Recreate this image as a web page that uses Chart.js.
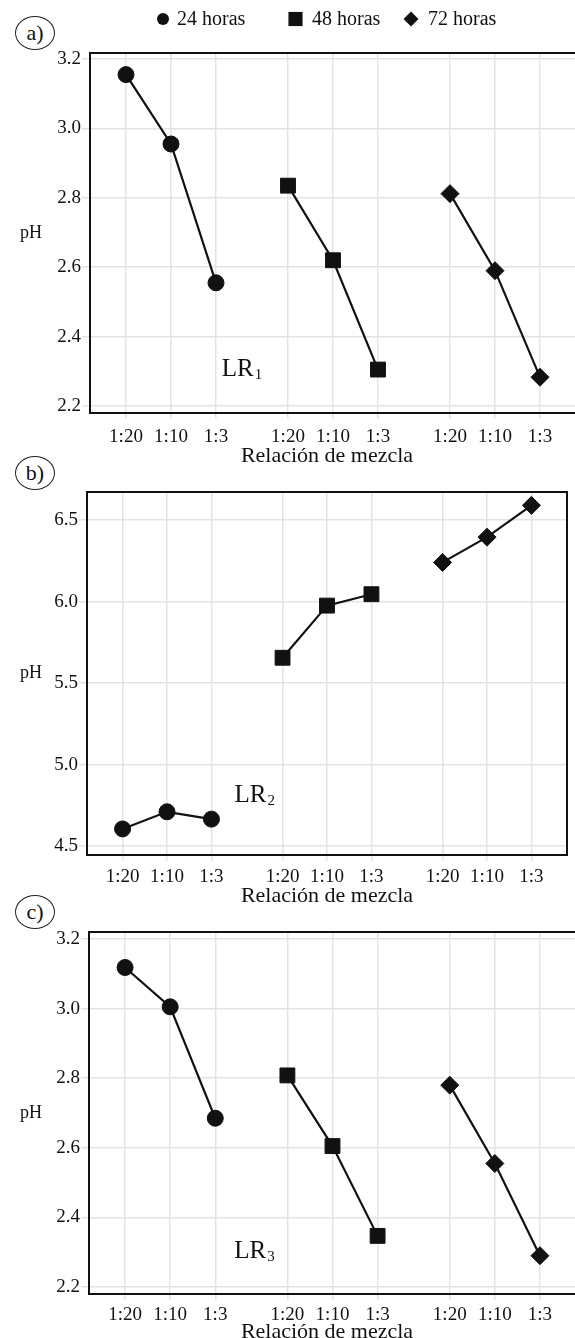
<!DOCTYPE html>
<html>
<head>
<meta charset="utf-8">
<script src="https://cdn.jsdelivr.net/npm/chart.js@4.4.1/dist/chart.umd.min.js"></script>
<style>
  html, body { margin: 0; padding: 0; background: #fff; width: 575px; height: 1338px; overflow: hidden; position: relative; }
  canvas { position: absolute; left: 0; }
  .tag { position: absolute; left: 15px; width: 40px; height: 34px; border: 1px solid #222; border-radius: 50%;
         box-sizing: border-box; font: 22px "Liberation Serif"; color: #111; text-align: center; line-height: 31px; }
</style>
</head>
<body>
<div class="tag" style="top:16px">a)</div>
<div class="tag" style="top:456px">b)</div>
<div class="tag" style="top:895px">c)</div>
<canvas id="chartA" width="577" height="470" style="top:0px"></canvas>
<canvas id="chartB" width="575" height="440" style="top:470px"></canvas>
<canvas id="chartC" width="577" height="435" style="top:910px"></canvas>
<script>
// Datos: pH por relación de mezcla y tiempo
const ratios = ["1:20", "1:10", "1:3"];
const times = ["24 horas", "48 horas", "72 horas"];
const markers = ["circle", "rect", "rectRot"];

const phA24 = [3.155, 2.955, 2.555];
const phA48 = [2.835, 2.62, 2.305];
const phA72 = [2.812, 2.59, 2.283];

const phB24 = [4.605, 4.71, 4.665];
const phB48 = [5.655, 5.975, 6.045];
const phB72 = [6.24, 6.395, 6.59];

const phC24 = [3.118, 3.005, 2.685];
const phC48 = [2.808, 2.605, 2.347];
const phC72 = [2.78, 2.555, 2.29];

const yTicksA = [2.2, 2.4, 2.6, 2.8, 3.0, 3.2];
const yTicksB = [4.5, 5.0, 5.5, 6.0, 6.5];
const yTicksC = [2.2, 2.4, 2.6, 2.8, 3.0, 3.2];

const lrSubs = ["1", "2", "3"];
const lrX = [2.13, 2.52, 2.42];
const lrY = [2.286, 4.77, 2.283];

const groupStep = 3.6; // separación entre grupos de 24, 48 y 72 horas
const serif = "Liberation Serif";
const ink = "#111";
const xTitle = "Relación de mezcla";

function xPos(group, i) {
  return group * groupStep + i;
}

const markerRadius = { circle: 8, rect: 10.5, rectRot: 9 };

// Marco, títulos, LR y leyenda
const extras = {
  id: "extras",
  beforeDatasetsDraw(chart) {
    const { ctx, chartArea: a } = chart;
    ctx.save();
    ctx.strokeStyle = ink;
    ctx.lineWidth = 2;
    ctx.strokeRect(a.left, a.top, a.right - a.left, a.bottom - a.top);
    ctx.restore();
  },
  afterDraw(chart, args, opts) {
    const { ctx, chartArea: a, scales } = chart;
    ctx.save();
    ctx.fillStyle = ink;
    ctx.font = "18px '" + serif + "'";
    ctx.textAlign = "center";
    ctx.textBaseline = "middle";
    ctx.fillText("pH", 31, (a.top + a.bottom) / 2);

    ctx.font = "22px '" + serif + "'";
    ctx.fillText(xTitle, 327, a.bottom + opts.titleGap);

    const x = scales.x.getPixelForValue(opts.lrX);
    const y = scales.y.getPixelForValue(opts.lrY);
    ctx.textAlign = "left";
    ctx.textBaseline = "alphabetic";
    ctx.font = "25px '" + serif + "'";
    ctx.fillText("LR", x, y);
    const w = ctx.measureText("LR").width;
    ctx.font = "15px '" + serif + "'";
    ctx.fillText(opts.lrSub, x + w + 1, y + 3);

    if (opts.legend) {
      const symX = [163, 295.5, 411];
      const txtX = [177, 312, 428];
      const legR = { circle: 6, rect: 10, rectRot: 7.5 };
      times.forEach((t, i) => {
        ctx.fillStyle = ink;
        ctx.strokeStyle = ink;
        Chart.helpers.drawPoint(ctx, { pointStyle: markers[i], radius: legR[markers[i]], rotation: 0, borderWidth: 0 }, symX[i], 19);
        ctx.font = "20px '" + serif + "'";
        ctx.textBaseline = "middle";
        ctx.fillText(t, txtX[i], 20);
      });
    }
    ctx.restore();
  },
};

function makePanel(id, series, yTicks, cfg) {
  const datasets = series.map((vals, g) => ({
    label: times[g],
    data: vals.map((v, i) => ({ x: xPos(g, i), y: v })),
    borderColor: ink,
    borderWidth: 2.2,
    backgroundColor: ink,
    pointStyle: markers[g],
    pointRadius: markerRadius[markers[g]],
    pointBackgroundColor: ink,
    pointBorderColor: ink,
    pointBorderWidth: 1,
    tension: 0,
    clip: false,
  }));

  return new Chart(document.getElementById(id), {
    type: "line",
    data: { datasets: datasets },
    plugins: [extras],
    options: {
      responsive: false,
      animation: false,
      events: [],
      layout: { autoPadding: false, padding: { top: cfg.padTop, right: cfg.padRight, left: 0, bottom: 0 } },
      plugins: {
        legend: { display: false },
        tooltip: { enabled: false },
        extras: { lrX: cfg.lrX, lrY: cfg.lrY, lrSub: cfg.lrSub, legend: cfg.legend, titleGap: cfg.titleGap },
      },
      scales: {
        x: {
          type: "linear",
          min: -0.8,
          max: 10.0,
          afterBuildTicks: (scale) => {
            const ticks = [];
            for (let g = 0; g < 3; g++) {
              for (let i = 0; i < ratios.length; i++) ticks.push({ value: xPos(g, i) });
            }
            scale.ticks = ticks;
          },
          afterFit: (scale) => { scale.height = cfg.xAxisH; },
          ticks: {
            autoSkip: false,
            maxRotation: 0,
            padding: cfg.xTickPad,
            color: ink,
            font: { family: serif, size: 19 },
            callback: (value, index) => ratios[index % 3],
          },
          grid: { color: "#e3e3e3", lineWidth: 1.5, tickLength: 6 },
          border: { display: false },
        },
        y: {
          min: cfg.yMin,
          max: cfg.yMax,
          afterBuildTicks: (scale) => { scale.ticks = yTicks.map((v) => ({ value: v })); },
          afterFit: (scale) => { scale.width = cfg.yAxisW; },
          ticks: {
            padding: 1,
            color: ink,
            font: { family: serif, size: 19 },
            callback: (value) => value.toFixed(1),
          },
          grid: { color: "#e3e3e3", lineWidth: 1.5, tickLength: 8 },
          border: { display: false },
        },
      },
    },
  });
}

makePanel("chartA", [phA24, phA48, phA72], yTicksA, {
  padTop: 53, padRight: 1, yAxisW: 90, xAxisH: 57, xTickPad: 7, titleGap: 43,
  yMin: 2.1798, yMax: 3.2173, lrX: lrX[0], lrY: lrY[0], lrSub: lrSubs[0], legend: true,
});

makePanel("chartB", [phB24, phB48, phB72], yTicksB, {
  padTop: 22, padRight: 8, yAxisW: 87, xAxisH: 55, xTickPad: 5, titleGap: 41,
  yMin: 4.445, yMax: 6.672, lrX: lrX[1], lrY: lrY[1], lrSub: lrSubs[1], legend: false,
});

makePanel("chartC", [phC24, phC48, phC72], yTicksC, {
  padTop: 22, padRight: 1, yAxisW: 89, xAxisH: 51, xTickPad: 4, titleGap: 38,
  yMin: 2.18, yMax: 3.22, lrX: lrX[2], lrY: lrY[2], lrSub: lrSubs[2], legend: false,
});
</script>
</body>
</html>
